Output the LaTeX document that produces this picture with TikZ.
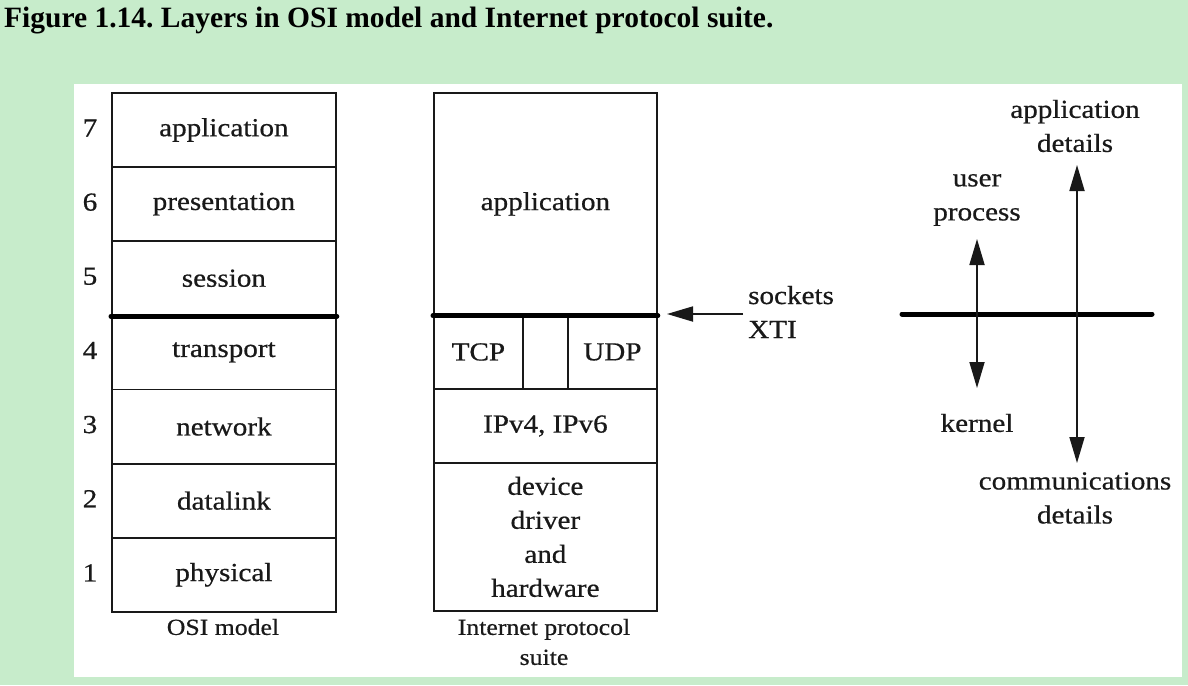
\documentclass[tikz,border=0pt]{standalone}
\usepackage{fontspec}
\setmainfont{Liberation Serif}
\newfontfamily\dfont[FakeStretch=1.12,FakeBold=0.6]{Liberation Serif}
\usetikzlibrary{arrows.meta}
\definecolor{bggreen}{RGB}{199,236,203}
\definecolor{ink}{RGB}{25,25,25}
\frenchspacing
\begin{document}
\begin{tikzpicture}[x=1pt,y=-1pt,
  txt/.style={text=ink, inner sep=0pt, align=center, font=\dfont\fontsize{26}{34}\selectfont},
  lay/.style={txt, draw=ink, line width=1.8pt, inner sep=0pt, anchor=north west, minimum height=74.14pt},
  osi/.style={lay, minimum width=224pt},
  captxt/.style={txt, font=\dfont\fontsize{23}{30}\selectfont},
  thickline/.style={draw=black, line width=5pt, line cap=round},
  arr/.style={draw=ink, line width=1.8pt, -{Triangle[length=26pt,width=15pt]}},
  darr/.style={draw=ink, line width=1.8pt, {Triangle[length=26pt,width=15pt]}-{Triangle[length=26pt,width=15pt]}}
]
\useasboundingbox (0,0) rectangle (1188,685);
\fill[bggreen] (0,0) rectangle (1188,685);
\fill[white] (74,84) rectangle (1182,677);

\node[anchor=base west, text=black, inner sep=0pt, font=\bfseries\fontsize{29.5}{32}\selectfont] (title) at (4,28) {Figure 1.14. Layers in OSI model and Internet protocol suite.};

% OSI model
\node[osi] (o7) at (111,92) {application};
\node[osi] (o6) at (111,166.14) {presentation};
\node[osi] (o5) at (111,240.28) {session};
\node[osi] (o4) at (111,314.42) {transport};
\node[osi] (o3) at (111,388.56) {network};
\node[osi] (o2) at (111,462.70) {datalink};
\node[osi] (o1) at (111,536.84) {physical};
\foreach \n in {1,...,7} { \node[txt] (n\n) at (90, 128+74.14*7-74.14*\n) {\n}; }
\draw[thickline] (o5.south west) -- (o5.south east);
\node[captxt] (osicap) at (223,627) {OSI model};

% Internet protocol suite
\node[lay, minimum width=223pt, minimum height=222pt] (iapp) at (433,92) {application};
\node[lay, minimum width=89pt] (tcp) at (433,314) {TCP};
\node[lay, minimum width=45pt] (mid) at (522,314) {};
\node[lay, minimum width=89pt] (udp) at (567,314) {UDP};
\node[lay, minimum width=223pt] (ip) at (433,388) {IPv4, IPv6};
\node[lay, minimum width=223pt, minimum height=148pt] (dev) at (433,462) {device\\driver\\and\\hardware};
\draw[thickline] (iapp.south west) -- (iapp.south east);
\node[captxt] (ipcap) at (544,642) {Internet protocol\\suite};

% sockets arrow
\node[txt, align=left, anchor=west] (sock) at (748,312) {sockets\\XTI};
\coordinate (sk1) at (743,314);
\coordinate (sk2) at (667,314);
\draw[arr] (sk1) -- (sk2);

% right-hand diagram
\coordinate (hl) at (902,314);
\coordinate (hr) at (1152,314);
\draw[thickline] (hl) -- (hr);
\coordinate (u1) at (977,239);
\coordinate (u2) at (977,388);
\coordinate (a1) at (1077,165);
\coordinate (a2) at (1077,463);
\draw[darr] (u1) -- (u2);
\draw[darr] (a1) -- (a2);
\node[txt] (user) at (977,200) {user\\process};
\node[txt] (kern) at (977,423) {kernel};
\node[txt] (appd) at (1075,126) {application\\details};
\node[txt] (comd) at (1075,498) {communications\\details};
\end{tikzpicture}
\end{document}
